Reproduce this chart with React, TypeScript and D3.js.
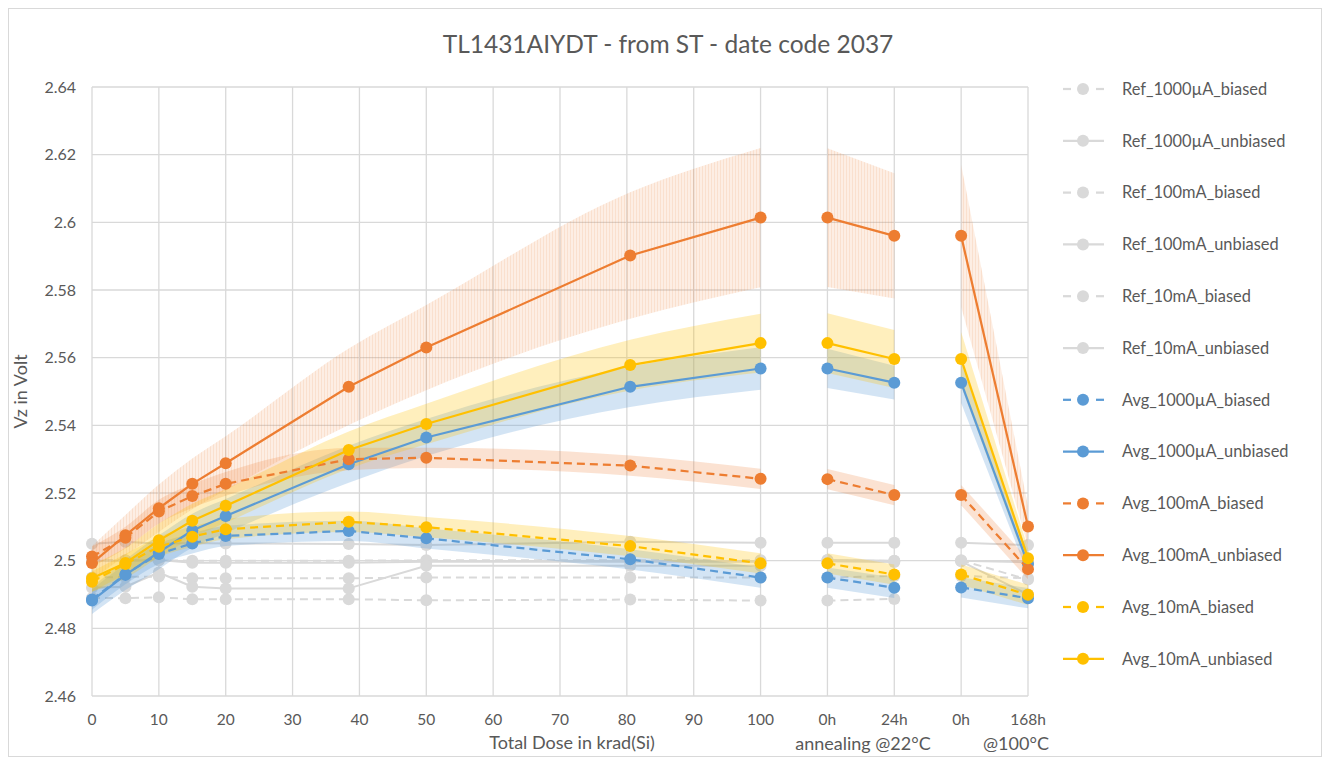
import React from "react";
import * as d3 from "d3";

// Dose steps (krad) followed by the four annealing steps (0h/24h @22°C, 0h/168h @100°C)
const doses = [0, 5, 10, 15, 20, 38.4, 50, 80.5, 100, 110, 120, 130, 140];
// index ranges that are joined by a line: irradiation, 22°C anneal, 100°C anneal
const segments = [
  [0, 8],
  [9, 10],
  [11, 12],
];
const tickValues = [0, 10, 20, 30, 40, 50, 60, 70, 80, 90, 100, 110, 120, 130, 140];
const tickLabels = ["0", "10", "20", "30", "40", "50", "60", "70", "80", "90", "100", "0h", "24h", "0h", "168h"];
const yTicks = [2.46, 2.48, 2.5, 2.52, 2.54, 2.56, 2.58, 2.6, 2.62, 2.64];

// Reference (unirradiated) parts
const ref1000uABiased = [2.489, 2.4889, 2.4892, 2.4886, 2.4886, 2.4886, 2.4883, 2.4885, 2.4882, 2.4882, 2.4887, null, null];
const ref1000uAUnbiased = [2.505, 2.5056, 2.505, 2.5052, 2.5051, 2.5049, 2.5046, 2.5056, 2.5053, 2.5053, 2.5053, 2.5053, 2.5046];
const ref100mABiased = [2.495, 2.4952, 2.4953, 2.4948, 2.4948, 2.4948, 2.495, 2.495, 2.495, 2.495, 2.4955, 2.4955, 2.4948];
const ref100mAUnbiased = [2.5, 2.5, 2.5002, 2.4994, 2.4994, 2.4994, 2.4997, 2.4997, 2.4997, 2.5002, 2.5, 2.5, 2.4995];
const ref10mABiased = [2.5001, 2.5001, 2.5001, 2.5, 2.5, 2.5, 2.5001, 2.5001, 2.5001, 2.5001, 2.4999, 2.5001, 2.4944];
const ref10mAUnbiased = [2.492, 2.4923, 2.4965, 2.4923, 2.4918, 2.4918, 2.4985, 2.4985, 2.4985, 2.4998, 2.4996, 2.4998, 2.49];

// Averages of irradiated parts
const avg1000uABiased = [2.4885, 2.496, 2.502, 2.5051, 2.5073, 2.5088, 2.5066, 2.5004, 2.495, 2.495, 2.492, 2.4921, 2.4889];
const avg1000uAUnbiased = [2.4882, 2.4958, 2.5025, 2.5089, 2.5132, 2.5285, 2.5364, 2.5514, 2.5568, 2.5568, 2.5526, 2.5526, 2.499];
const avg100mABiased = [2.5012, 2.5068, 2.5145, 2.5191, 2.5227, 2.53, 2.5304, 2.5281, 2.5242, 2.5241, 2.5194, 2.5194, 2.4975];
const avg100mAUnbiased = [2.4993, 2.5075, 2.5155, 2.5227, 2.5288, 2.5514, 2.563, 2.5902, 2.6014, 2.6014, 2.596, 2.596, 2.5101];
const avg10mABiased = [2.4938, 2.499, 2.5041, 2.5071, 2.5093, 2.5115, 2.5099, 2.5043, 2.4992, 2.4992, 2.4959, 2.4959, 2.4899];
const avg10mAUnbiased = [2.4948, 2.4993, 2.506, 2.5118, 2.5162, 2.5327, 2.5404, 2.5578, 2.5643, 2.5643, 2.5596, 2.5596, 2.5007];

// Half-width of the spread band around each average
const spread1000uABiased = [0.003, 0.003, 0.003, 0.003, 0.003, 0.003, 0.003, 0.003, 0.003, 0.003, 0.003, 0.003, 0.003];
const spread1000uAUnbiased = [0.004, 0.0045, 0.005, 0.005, 0.005, 0.0055, 0.0055, 0.006, 0.0063, 0.0058, 0.005, 0.006, 0.003];
const spread100mABiased = [0.003, 0.0032, 0.0035, 0.0035, 0.0035, 0.0033, 0.003, 0.003, 0.003, 0.003, 0.003, 0.003, 0.003];
const spread100mAUnbiased = [0.005, 0.006, 0.007, 0.0075, 0.008, 0.0113, 0.0126, 0.0187, 0.0206, 0.0205, 0.0185, 0.021, 0.006];
const spread10mABiased = [0.003, 0.003, 0.003, 0.003, 0.003, 0.003, 0.003, 0.003, 0.003, 0.003, 0.003, 0.003, 0.003];
const spread10mAUnbiased = [0.004, 0.0045, 0.005, 0.005, 0.005, 0.0055, 0.006, 0.0075, 0.0087, 0.0088, 0.0086, 0.008, 0.003];

const GRAY = "#D9D9D9";
const BLUE = "#5B9BD5";
const ORANGE = "#ED7D31";
const YELLOW = "#FFC000";
const TEXT = "#595959";
const FONT = "Lato, 'Open Sans', sans-serif";

type Series = {
  name: string;
  values: (number | null)[];
  color: string;
  dashed: boolean;
  spread?: number[];
  hatched?: boolean;
};

const refSeries: Series[] = [
  { name: "Ref_1000µA_biased", values: ref1000uABiased, color: GRAY, dashed: true },
  { name: "Ref_1000µA_unbiased", values: ref1000uAUnbiased, color: GRAY, dashed: false },
  { name: "Ref_100mA_biased", values: ref100mABiased, color: GRAY, dashed: true },
  { name: "Ref_100mA_unbiased", values: ref100mAUnbiased, color: GRAY, dashed: false },
  { name: "Ref_10mA_biased", values: ref10mABiased, color: GRAY, dashed: true },
  { name: "Ref_10mA_unbiased", values: ref10mAUnbiased, color: GRAY, dashed: false },
];

const avgSeries: Series[] = [
  { name: "Avg_1000µA_biased", values: avg1000uABiased, color: BLUE, dashed: true, spread: spread1000uABiased },
  { name: "Avg_1000µA_unbiased", values: avg1000uAUnbiased, color: BLUE, dashed: false, spread: spread1000uAUnbiased },
  { name: "Avg_100mA_biased", values: avg100mABiased, color: ORANGE, dashed: true, spread: spread100mABiased },
  { name: "Avg_100mA_unbiased", values: avg100mAUnbiased, color: ORANGE, dashed: false, spread: spread100mAUnbiased, hatched: true },
  { name: "Avg_10mA_biased", values: avg10mABiased, color: YELLOW, dashed: true, spread: spread10mABiased },
  { name: "Avg_10mA_unbiased", values: avg10mAUnbiased, color: YELLOW, dashed: false, spread: spread10mAUnbiased },
];

const left = 92;
const right = 1028;
const top = 87;
const bottom = 696;

const x = d3.scaleLinear().domain([0, 140]).range([left, right]);
const y = d3.scaleLinear().domain([2.46, 2.64]).range([bottom, top]);

type Pt = { x: number; v: number; s: number };

function segmentPoints(s: Series, a: number, b: number): Pt[] {
  const pts: Pt[] = [];
  for (let i = a; i <= b; i++) {
    const v = s.values[i];
    if (v == null) continue;
    pts.push({ x: doses[i], v, s: s.spread ? s.spread[i] : 0 });
  }
  return pts;
}

const lineGen = d3
  .line<Pt>()
  .x((d) => x(d.x))
  .y((d) => y(d.v));

const areaGen = d3
  .area<Pt>()
  .x((d) => x(d.x))
  .y0((d) => y(d.v - d.s))
  .y1((d) => y(d.v + d.s))
  .curve(d3.curveMonotoneX);

function SeriesLines({ s, width }: { s: Series; width: number }) {
  return (
    <g>
      {segments.map(([a, b], k) => {
        const pts = segmentPoints(s, a, b);
        if (pts.length < 2) return null;
        return (
          <path
            key={k}
            d={lineGen(pts) || ""}
            fill="none"
            stroke={s.color}
            strokeWidth={width}
            strokeDasharray={s.dashed ? "8,5" : undefined}
            strokeLinejoin="round"
          />
        );
      })}
      {s.values.map((v, i) =>
        v == null ? null : <circle key={i} cx={x(doses[i])} cy={y(v)} r={6} fill={s.color} />
      )}
    </g>
  );
}

function Band({ s }: { s: Series }) {
  const fill = s.hatched ? "url(#hatchOrange)" : s.color;
  const op = s.hatched ? 1 : s.color === YELLOW ? 0.26 : s.color === BLUE ? 0.27 : 0.22;
  return (
    <g>
      {segments.map(([a, b], k) => {
        const pts = segmentPoints(s, a, b);
        if (pts.length < 2) return null;
        return <path key={k} d={areaGen(pts) || ""} fill={fill} fillOpacity={op} stroke="none" />;
      })}
    </g>
  );
}

function LegendEntry({ s, yPos }: { s: Series; yPos: number }) {
  const x0 = 1063;
  const x1 = 1104;
  const cx = 1083;
  return (
    <g>
      {s.dashed ? (
        <>
          <line x1={x0} x2={x0 + 8} y1={yPos} y2={yPos} stroke={s.color} strokeWidth={2.25} />
          <line x1={x1 - 8} x2={x1} y1={yPos} y2={yPos} stroke={s.color} strokeWidth={2.25} />
        </>
      ) : (
        <line x1={x0} x2={x1} y1={yPos} y2={yPos} stroke={s.color} strokeWidth={2.25} />
      )}
      <circle cx={cx} cy={yPos} r={6} fill={s.color} />
      <text x={1122} y={yPos} dy="0.35em" fontSize={16.4} fill={TEXT} fontFamily={FONT}>
        {s.name}
      </text>
    </g>
  );
}

export default function App() {
  const legend = [...refSeries, ...avgSeries];
  return (
    <svg
      width={1335}
      height={765}
      style={{ position: "absolute", left: 0, top: 0, background: "#fff" }}
      fontFamily={FONT}
    >
      <defs>
        <pattern id="hatchOrange" width={3} height={8} patternUnits="userSpaceOnUse">
          <rect width={3} height={8} fill={ORANGE} fillOpacity={0.13} />
          <rect width={1} height={8} fill={ORANGE} fillOpacity={0.12} />
        </pattern>
      </defs>
      <rect x={8.5} y={8.5} width={1313} height={748} fill="#fff" stroke={GRAY} />

      <text x={668} y={44} dy="0.35em" textAnchor="middle" fontSize={24.5} fill={TEXT}>
        TL1431AIYDT - from ST - date code 2037
      </text>

      {/* grid */}
      {yTicks.map((t) => (
        <line key={"gy" + t} x1={left} x2={right} y1={y(t)} y2={y(t)} stroke={GRAY} strokeWidth={1.3} />
      ))}
      {tickValues.map((t) => (
        <line key={"gx" + t} x1={x(t)} x2={x(t)} y1={top} y2={bottom} stroke={GRAY} strokeWidth={1.3} />
      ))}

      {/* axis labels */}
      {yTicks.map((t) => (
        <text key={"ly" + t} x={76} y={y(t)} dy="0.35em" textAnchor="end" fontSize={16} fill={TEXT}>
          {d3.format("~g")(t)}
        </text>
      ))}
      {tickValues.map((t, i) => (
        <text key={"lx" + t} x={x(t)} y={720} dy="0.35em" textAnchor="middle" fontSize={15.5} fill={TEXT}>
          {tickLabels[i]}
        </text>
      ))}
      <text x={572} y={743} dy="0.35em" textAnchor="middle" fontSize={18} fill={TEXT}>
        Total Dose in krad(Si)
      </text>
      <text x={863} y={744} dy="0.35em" textAnchor="middle" fontSize={18} fill={TEXT}>
        annealing @22°C
      </text>
      <text x={1016} y={744} dy="0.35em" textAnchor="middle" fontSize={18} fill={TEXT}>
        @100°C
      </text>
      <text
        transform={`translate(21, ${(top + bottom) / 2}) rotate(-90)`}
        dy="0.35em"
        textAnchor="middle"
        fontSize={18}
        fill={TEXT}
      >
        Vz in Volt
      </text>

      {/* reference parts */}
      {refSeries.map((s) => (
        <SeriesLines key={s.name} s={s} width={2} />
      ))}

      {/* spread bands */}
      {avgSeries.map((s) => (
        <Band key={"b" + s.name} s={s} />
      ))}

      {/* averages */}
      {avgSeries.map((s) => (
        <SeriesLines key={s.name} s={s} width={2.25} />
      ))}

      {/* legend */}
      {legend.map((s, i) => (
        <LegendEntry key={"lg" + s.name} s={s} yPos={89 + i * 51.8} />
      ))}
    </svg>
  );
}
